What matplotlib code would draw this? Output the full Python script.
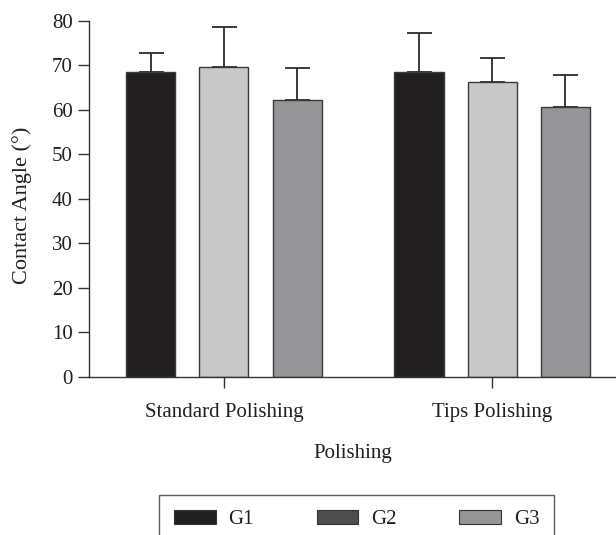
import matplotlib
matplotlib.use('Agg')
import matplotlib.pyplot as plt
from matplotlib.patches import Patch
import numpy as np

# data
categories = ["Standard Polishing", "Tips Polishing"]
groups = ["G1", "G2", "G3"]
means = {
    "G1": [68.4, 68.4],
    "G2": [69.5, 66.3],
    "G3": [62.2, 60.7],
}
errors = {
    "G1": [4.3, 8.8],
    "G2": [9.1, 5.4],
    "G3": [7.1, 7.1],
}
yticks = [0, 10, 20, 30, 40, 50, 60, 70, 80]

bar_colors = {"G1": "#231f20", "G2": "#c7c8ca", "G3": "#939598"}
# the legend swatches in the source figure use different greys than the bars
legend_colors = {"G1": "#231f20", "G2": "#4d4f4f", "G3": "#939598"}

plt.rcParams['font.family'] = ['Liberation Serif', 'DejaVu Serif']
plt.rcParams['font.size'] = 15
text_color = "#231f20"

fig = plt.figure(figsize=(6.16, 5.35), dpi=100)
ax = fig.add_axes([0.145, 0.296, 0.855, 0.6654])

x = np.arange(len(categories))
width = 0.183
pitch = 0.2727

for i, g in enumerate(groups):
    pos = x + (i - 1) * pitch
    ax.bar(pos, means[g], width=width, color=bar_colors[g],
           edgecolor="#3a3a3a", linewidth=1.0, zorder=2)
    ax.errorbar(pos, means[g], yerr=[np.zeros(len(categories)), errors[g]],
                fmt="none", ecolor="#2b2b2b", elinewidth=1.3, capsize=9,
                capthick=1.3, zorder=1)

ax.set_xlim(-0.502, 1.462)
ax.set_ylim(0, 80)
ax.set_yticks(yticks)
ax.set_xticks(x)
ax.set_xticklabels(categories, color=text_color)
ax.tick_params(axis="y", direction="out", length=8, width=1.0, colors="#333333",
               labelcolor=text_color, pad=4)
ax.tick_params(axis="x", direction="out", length=8, width=1.0, colors="#333333",
               labelcolor=text_color, pad=11)

for spine in ["top", "right"]:
    ax.spines[spine].set_visible(False)
for spine in ["left", "bottom"]:
    ax.spines[spine].set_color("#333333")
    ax.spines[spine].set_linewidth(1.0)

ax.set_ylabel("Contact Angle (°)", color=text_color, fontsize=16)
ax.yaxis.set_label_coords(-0.109, 0.481)
ax.set_xlabel("Polishing", color=text_color, labelpad=16)

handles = [Patch(facecolor=legend_colors[g], edgecolor="#333333", linewidth=0.8)
           for g in groups]
leg = fig.legend(handles, groups, loc="upper left",
                 bbox_to_anchor=(159 / 616, 1 - 495 / 535),
                 ncol=3, frameon=True, fancybox=False, borderaxespad=0,
                 borderpad=0.72, handlelength=2.0, handleheight=0.67,
                 handletextpad=0.62, columnspacing=3.0)
leg.get_frame().set_edgecolor("#333333")
leg.get_frame().set_linewidth(1.0)
for t in leg.get_texts():
    t.set_color(text_color)

fig.savefig("out.png", dpi=100)
